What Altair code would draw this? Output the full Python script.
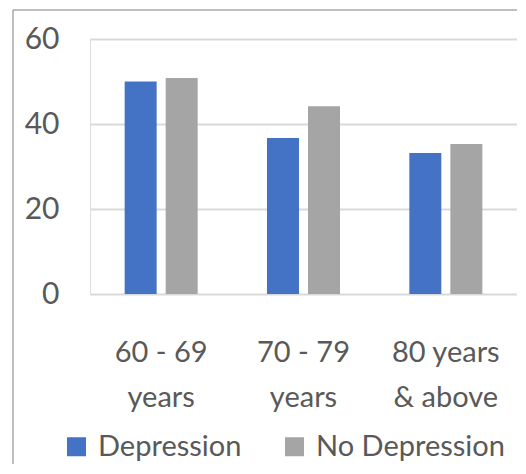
import altair as alt
import pandas as pd

ages = ["60 - 69\nyears", "70 - 79\nyears", "80 years\n& above"]
depression = [50.0, 36.7, 33.2]
no_depression = [50.8, 44.2, 35.3]
groups = ["Depression", "No Depression"]
colors = ["#4472C4", "#A5A5A5"]
y_ticks = [0, 20, 40, 60]

rows = []
for a, d, n in zip(ages, depression, no_depression):
    rows.append({"age": a, "group": groups[0], "value": d})
    rows.append({"age": a, "group": groups[1], "value": n})
df = pd.DataFrame(rows)

FONT = "Lato"
TXT = "#595959"

bars = alt.Chart(df).mark_bar().encode(
    x=alt.X("age:N", sort=ages, title=None,
            scale=alt.Scale(paddingInner=0.487, paddingOuter=0.2435),
            axis=alt.Axis(labelAngle=0, ticks=False, domain=False, grid=False,
                          labelFontSize=29, labelColor=TXT, labelFont=FONT,
                          labelPadding=44, labelLineHeight=45,
                          labelExpr="split(datum.label, '\\n')")),
    xOffset=alt.XOffset("group:N", sort=groups,
                        scale=alt.Scale(paddingInner=0.22, paddingOuter=0)),
    y=alt.Y("value:Q", title=None,
            scale=alt.Scale(domain=[0, 60], nice=False),
            axis=alt.Axis(values=y_ticks, ticks=False, domain=False,
                          gridColor="#D9D9D9", gridWidth=2,
                          labelFontSize=30, labelColor=TXT, labelFont=FONT,
                          labelPadding=31)),
    color=alt.Color("group:N", sort=groups,
                    scale=alt.Scale(domain=groups, range=colors),
                    legend=alt.Legend(title=None, orient="none", direction="horizontal",
                                      legendX=-28, legendY=393,
                                      symbolType="square", symbolSize=361,
                                      symbolStrokeWidth=0, symbolOpacity=1,
                                      labelFontSize=29, labelFont=FONT, labelColor=TXT,
                                      labelOffset=7, columnPadding=38, padding=0,
                                      labelLimit=0)),
)

frame_data = alt.Data(values=[{"k": 1}])
left_line = alt.Chart(frame_data).mark_rule(color="#7F7F7F", strokeWidth=1).encode(
    x=alt.value(-77), y=alt.value(-29), y2=alt.value(440))
top_line = alt.Chart(frame_data).mark_rule(color="#7F7F7F", strokeWidth=1).encode(
    x=alt.value(-77), x2=alt.value(427), y=alt.value(-29))

chart = alt.layer(bars, left_line, top_line).properties(
    width=427, height=255,
    autosize=alt.AutoSizeParams(type="none"),
    padding={"left": 82, "top": 31, "right": 0, "bottom": 170},
).configure_view(stroke=None).configure(background="white")

chart.save("out.html", embed_options={"renderer": "svg", "actions": False})
